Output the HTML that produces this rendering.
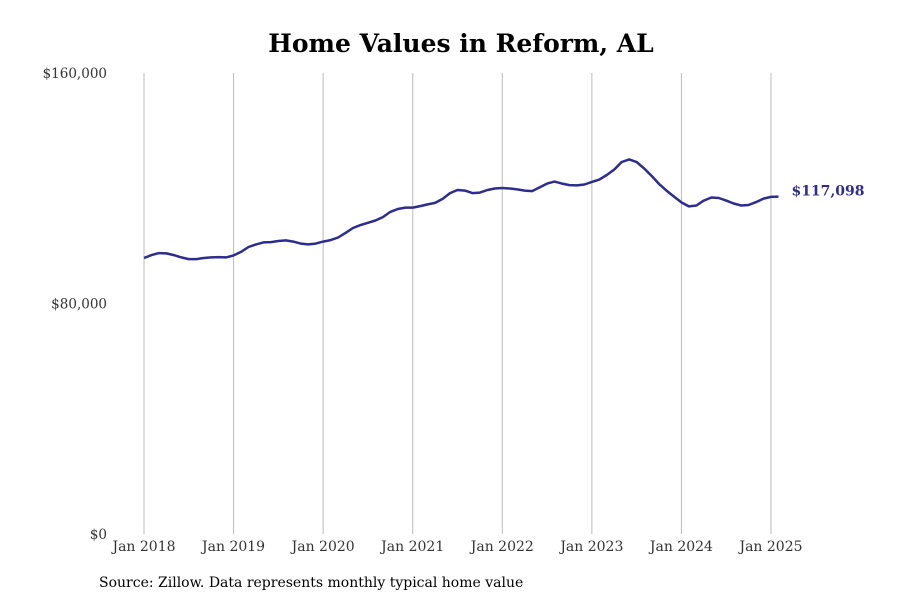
<!DOCTYPE html>
<html><head><meta charset="utf-8"><style>
body{margin:0;background:#fff;}
svg{display:block;font-family:"DejaVu Serif","Liberation Serif",serif;}
</style></head><body>
<svg id="chart" width="900" height="600" xmlns="http://www.w3.org/2000/svg">
<text x="461" y="52" text-anchor="middle" font-size="25" font-weight="bold" fill="#000">Home Values in Reform, AL</text>
<g id="grid"></g>
<g id="yaxis"></g>
<g id="xaxis"></g>
<path id="line" fill="none" stroke="#2e2d8f" stroke-width="2.5" stroke-linejoin="round"/>
<text id="endlabel" font-size="14" font-weight="bold" fill="#2e2d8f"></text>
<text x="99" y="587" font-size="14" fill="#000">Source: Zillow. Data represents monthly typical home value</text>
</svg>
<script>
const values = [95.8,96.8,97.5,97.4,96.8,96.0,95.4,95.4,95.8,96.0,96.1,96.0,
96.7,97.9,99.6,100.5,101.2,101.3,101.7,101.9,101.5,100.8,100.5,100.8,
101.5,102.0,102.9,104.5,106.2,107.2,108.0,108.8,110.0,111.8,112.8,113.3,
113.3,113.8,114.4,114.9,116.3,118.3,119.4,119.2,118.3,118.5,119.4,119.9,
120.1,119.9,119.6,119.2,119.0,120.3,121.6,122.3,121.6,121.1,121.0,121.3,
122.2,123.0,124.6,126.5,129.1,130.0,129.1,126.9,124.3,121.5,119.2,117.1,
115.1,113.7,114.0,115.7,116.8,116.6,115.7,114.7,114.0,114.2,115.2,116.4,
117.0,117.098];
const xTickLabels = ["Jan 2018","Jan 2019","Jan 2020","Jan 2021","Jan 2022","Jan 2023","Jan 2024","Jan 2025"];
const yTicks = [0,80000,160000];
const yTickLabels = ["$0","$80,000","$160,000"];
const endLabel = "$117,098";

const NS="http://www.w3.org/2000/svg";
const x = m => 144 + m*(627/84);
const y = v => 534 - v/160000*461;
const grid=document.getElementById('grid'), xa=document.getElementById('xaxis'), ya=document.getElementById('yaxis');
xTickLabels.forEach((lab,i)=>{
  const l=document.createElementNS(NS,'line');
  
  
  l.setAttribute('x1',x(i*12));l.setAttribute('x2',x(i*12));
  l.setAttribute('y1',73);l.setAttribute('y2',534);
  l.setAttribute('stroke','#bbb');l.setAttribute('stroke-width','1');
  grid.appendChild(l);
  const t=document.createElementNS(NS,'text');
  
  
  t.setAttribute('x',x(i*12));t.setAttribute('y',551);
  t.setAttribute('text-anchor','middle');t.setAttribute('font-size','14');t.setAttribute('fill','#333');
  t.textContent=lab;xa.appendChild(t);
});
yTicks.forEach((v,i)=>{
  const t=document.createElementNS(NS,'text');
  
  
  t.setAttribute('x',107);t.setAttribute('y',y(v)+5);
  t.setAttribute('text-anchor','end');t.setAttribute('font-size','13.5');t.setAttribute('fill','#333');
  t.textContent=yTickLabels[i];ya.appendChild(t);
});
document.getElementById('line').setAttribute('d',values.map((v,i)=>(i?'L':'M')+x(i).toFixed(1)+','+y(v*1000).toFixed(1)).join(''));
const n=values.length-1, el=document.getElementById('endlabel');
el.setAttribute('x',x(n)+13);el.setAttribute('y',y(values[n]*1000)-1);el.textContent=endLabel;
</script>
</body></html>
